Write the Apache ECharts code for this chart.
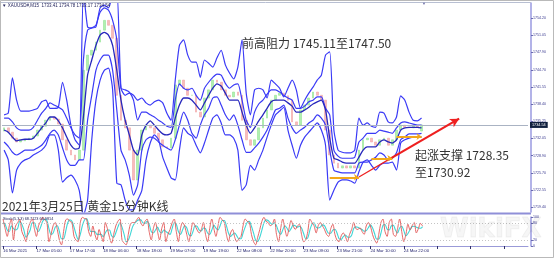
<!DOCTYPE html>
<html><head><meta charset="utf-8">
<script src="https://cdn.jsdelivr.net/npm/echarts@6/dist/echarts.min.js"></script>
<style>html,body{margin:0;padding:0;background:#fff;overflow:hidden}#c{width:554px;height:258px}</style>
</head><body><div id="c"></div>
<script>
// ---- data (XAUUSD M15, one slot = 1.5 h) ----
const timeLabels=['16 Mar 2021','17 Mar 05:00','17 Mar 17:00','18 Mar 06:00','18 Mar 18:00','19 Mar 07:00','19 Mar 19:00','22 Mar 08:00','22 Mar 20:00','23 Mar 09:00','23 Mar 21:00','24 Mar 10:00','24 Mar 22:00'];
const priceTicks=[1754.20,1751.05,1747.90,1744.70,1741.55,1738.40,1735.25,1732.05,1728.90,1725.70,1722.55,1719.40];
const stochTicks=[100,80,20,0];
const lastPrice=1734.54;
const closes=[1734.0,1733.2,1732.1,1731.4,1731.8,1731.8,1732.1,1732.5,1733.6,1734.3,
1735.4,1736.0,1735.6,1734.7,1731.8,1729.9,1729.0,1728.1,1729.9,1744.6,
1747.4,1748.3,1749.8,1752.0,1753.8,1752.9,1750.5,1740.0,1735.4,1734.0,
1729.9,1724.4,1729.9,1733.6,1734.5,1734.0,1733.0,1731.8,1730.5,1730.3,
1732.1,1741.9,1742.8,1741.3,1740.0,1740.0,1736.9,1736.0,1739.5,1741.0,
1742.8,1742.4,1741.0,1740.0,1739.7,1740.6,1740.0,1735.4,1731.8,1730.8,
1731.8,1734.0,1735.8,1737.3,1739.1,1740.0,1740.4,1739.9,1739.1,1735.1,
1734.5,1737.3,1738.2,1739.5,1740.6,1740.0,1739.1,1733.6,1729.0,1727.5,
1726.6,1727.0,1726.6,1727.0,1726.6,1729.9,1731.8,1732.1,1731.4,1730.8,
1731.8,1732.1,1730.8,1731.8,1733.6,1734.5,1734.1,1734.0,1734.3,1734.1,
1734.54];
const opens=[1733.4,1734.0,1733.2,1732.1,1731.4,1731.6,1731.8,1732.1,1732.5,1733.6,
1734.3,1735.4,1736.0,1735.6,1734.7,1731.8,1729.9,1729.0,1728.1,1729.9,
1744.6,1747.4,1748.3,1749.8,1752.0,1753.8,1752.9,1750.5,1740.0,1735.4,
1734.0,1729.9,1724.4,1729.9,1733.6,1734.5,1734.0,1733.0,1731.8,1730.5,
1730.3,1732.1,1741.9,1742.8,1741.3,1740.0,1740.0,1736.9,1736.0,1739.5,
1741.0,1742.8,1742.4,1741.0,1740.0,1739.7,1740.6,1740.0,1735.4,1731.8,
1730.8,1731.8,1734.0,1735.8,1737.3,1739.1,1740.0,1740.4,1739.9,1739.1,
1735.1,1734.5,1737.3,1738.2,1739.5,1740.6,1740.0,1739.1,1733.6,1729.0,
1727.5,1726.6,1727.0,1726.6,1727.0,1726.6,1729.9,1731.8,1732.1,1731.4,
1730.8,1731.8,1732.1,1730.8,1731.8,1733.6,1734.5,1734.1,1734.0,1734.3,
1733.41];
const maLine=[1733.6,1733.2,1732.3,1731.6,1731.8,1731.9,1731.9,1732.1,1733.0,1734.0,
1734.9,1736.0,1736.0,1735.3,1734.0,1732.3,1730.8,1730.1,1730.3,1736.0,
1743.7,1746.5,1749.2,1751.1,1751.6,1751.1,1749.2,1744.6,1739.1,1735.4,
1732.7,1729.9,1729.0,1732.7,1734.5,1735.3,1734.5,1733.6,1732.9,1732.7,
1733.0,1735.8,1738.2,1739.5,1739.5,1739.1,1738.2,1737.3,1738.6,1740.0,
1741.3,1742.1,1741.7,1740.4,1739.1,1739.1,1739.1,1736.9,1734.5,1733.0,
1734.0,1735.3,1736.4,1737.6,1738.8,1739.1,1739.1,1739.1,1738.6,1738.0,
1736.9,1736.9,1737.3,1737.8,1738.4,1738.8,1739.1,1737.3,1732.1,1728.4,
1728.1,1727.7,1727.5,1727.5,1727.5,1728.6,1729.9,1730.5,1730.5,1730.5,
1731.4,1731.8,1731.4,1731.2,1731.8,1733.6,1734.0,1734.1,1734.1,1734.1,
1734.0];
const bandUpper1=[1735.8,1735.8,1735.1,1734.0,1733.6,1733.6,1733.6,1734.1,1735.4,1736.7,
1737.6,1738.6,1738.2,1737.8,1737.3,1735.8,1734.0,1732.7,1732.1,1746.5,
1752.0,1752.4,1752.9,1755.3,1756.1,1755.7,1753.8,1750.2,1741.3,1741.0,
1740.6,1739.1,1735.4,1736.9,1736.9,1736.4,1736.0,1735.4,1734.9,1734.3,
1734.1,1739.1,1742.1,1741.3,1741.0,1741.3,1740.0,1739.1,1741.3,1742.4,
1743.3,1743.9,1743.7,1742.2,1741.3,1741.9,1742.1,1739.1,1735.4,1734.1,
1736.9,1738.4,1739.1,1740.2,1741.0,1741.0,1740.6,1740.0,1739.5,1739.1,
1737.6,1737.6,1738.0,1738.8,1739.1,1739.7,1739.7,1737.6,1736.4,1729.9,
1728.8,1728.4,1728.4,1728.4,1728.6,1731.4,1732.1,1733.0,1733.0,1733.0,
1733.6,1733.4,1733.2,1733.0,1734.0,1734.9,1735.1,1734.9,1734.7,1734.5,
1734.5];
const bandLower1=[1731.4,1730.6,1729.5,1729.0,1729.4,1729.9,1729.9,1729.9,1730.3,1730.8,
1731.8,1733.0,1733.6,1732.7,1730.3,1728.1,1727.1,1727.1,1728.1,1728.1,
1735.4,1740.0,1744.6,1746.5,1747.4,1747.4,1744.6,1737.3,1729.9,1728.1,
1725.3,1721.6,1723.5,1729.9,1731.8,1732.3,1732.1,1731.4,1730.8,1730.3,
1729.9,1731.8,1734.5,1736.9,1735.4,1733.0,1732.1,1734.5,1736.4,1737.6,
1739.5,1739.7,1738.2,1736.4,1735.4,1736.4,1734.5,1731.8,1729.5,1729.5,
1730.3,1731.2,1732.3,1733.6,1735.4,1737.3,1737.6,1738.2,1735.8,1734.0,
1733.0,1733.6,1734.1,1734.9,1735.4,1736.4,1735.8,1734.5,1729.9,1726.2,
1725.9,1725.7,1725.7,1725.7,1725.7,1727.5,1727.7,1727.7,1728.1,1728.6,
1729.4,1729.0,1728.1,1728.4,1729.4,1731.8,1732.3,1732.9,1732.9,1732.9,
1733.0];
const bandUpper2=[1736.4,1736.7,1743.2,1739.1,1737.1,1737.1,1737.1,1737.3,1737.6,1738.8,
1739.1,1737.6,1737.6,1737.8,1742.4,1739.1,1734.5,1731.8,1730.8,1759.4,
1752.6,1752.4,1752.6,1756.1,1756.6,1756.1,1758.5,1759.4,1741.3,1740.0,
1740.4,1740.0,1739.1,1739.5,1738.6,1738.2,1738.8,1739.1,1738.6,1736.7,
1735.4,1742.8,1749.2,1750.2,1747.4,1746.1,1746.1,1743.3,1746.5,1745.9,
1745.2,1746.9,1748.3,1745.6,1744.1,1743.0,1745.2,1750.2,1740.4,1736.4,
1741.0,1741.3,1741.0,1739.5,1742.8,1742.1,1741.3,1739.7,1741.3,1742.8,
1741.0,1737.6,1739.1,1740.4,1741.5,1742.8,1743.7,1747.4,1748.0,1733.6,
1729.9,1729.5,1729.4,1729.4,1729.9,1735.8,1734.5,1734.9,1734.3,1734.1,
1736.9,1736.7,1735.1,1734.9,1736.0,1739.9,1739.1,1736.9,1735.4,1735.3,
1735.8];
const bandLower2=[1729.9,1728.1,1722.0,1726.2,1727.5,1728.1,1728.4,1729.0,1729.4,1729.9,
1730.8,1732.7,1732.7,1729.9,1724.0,1724.8,1725.3,1724.4,1722.5,1717.9,
1720.7,1731.8,1739.1,1742.8,1744.6,1745.0,1741.0,1723.8,1723.5,1720.7,
1718.9,1718.9,1720.7,1722.5,1728.1,1731.2,1732.7,1731.8,1728.6,1726.6,
1724.8,1724.4,1729.9,1734.0,1733.0,1732.5,1730.8,1729.4,1731.2,1733.6,
1735.8,1736.4,1734.9,1732.7,1732.7,1732.1,1729.9,1722.5,1723.5,1727.1,
1726.2,1728.1,1729.9,1732.3,1734.5,1736.4,1737.1,1737.8,1733.6,1730.8,
1728.4,1730.8,1732.3,1733.2,1734.1,1734.9,1733.6,1730.8,1720.7,1722.5,
1724.0,1724.4,1724.4,1724.2,1723.8,1725.9,1727.7,1728.1,1727.1,1726.2,
1727.1,1727.5,1727.5,1727.7,1726.2,1731.2,1731.8,1732.1,1732.3,1732.3,
1732.3];
// Stochastic (5,3,3), one slot = 45 min
const stochK=[93,60,33,70,93,21,69,80,93,50,
33,15,60,81,93,60,33,70,85,99,
90,81,15,40,70,81,57,20,4,50,
90,93,85,81,33,20,15,80,99,95,
93,50,33,69,40,21,57,35,15,81,
60,30,10,40,69,85,93,21,10,4,
40,75,81,81,90,99,80,69,85,93,
50,21,60,81,50,21,60,81,15,40,
57,80,93,50,15,60,81,69,40,15,
50,81,70,55,45,
57,81,40,15,60,93,60,33,70,99,
90,81,40,15,45,57,30,15,25,33,
70,93,85,81,40,15,4,30,57,85,
99,85,81,70,75,93,40,15,60,93,
60,33,60,88,70,57,69,75,40,15,
20,50,93,81,70,45,70,81,70,57,
40,33,60,75,40,20,15,35,45,33,
15,40,57,81,60,57,63,50,40,69,
81,69,40,21,10,40,80,93,50,33,
81,93,40,33,60,93,50,15,40,75,
55,70,81,45,60,78,68.7];
const stochD=[80,75,55,50,70,60,55,60,85,75,
55,30,40,55,80,80,60,50,65,85,
92,88,60,40,45,65,70,50,25,25,
50,80,90,85,65,40,22,40,70,90,
95,75,50,50,50,40,40,40,32,45,
55,55,35,30,45,65,80,65,40,15,
20,40,65,78,85,90,90,80,78,85,
75,50,45,55,65,50,45,55,50,45,
40,60,80,75,50,40,55,70,63,40,
35,50,70,68,55,
52,62,60,45,40,55,72,62,55,70,
88,88,70,45,33,40,45,35,25,25,
45,65,82,85,68,45,20,16,30,55,
80,90,88,80,75,80,70,50,40,55,
70,62,50,60,72,70,65,68,62,43,
25,28,55,75,80,65,62,65,73,70,
55,44,44,55,58,45,25,23,32,38,
31,30,37,60,66,65,60,57,51,53,
63,73,63,43,24,24,43,71,74,58,
55,69,71,55,45,62,68,53,35,43,
56,67,68,65,62,61,67.0];
// annotations (slot index, price)
const trendThin=[[85,1724.95],[92,1728.1]];
const trendThick=[[92,1728.1],[109,1735.7]];
const supportArrows=[[[78,1724.9],[85,1724.9]],[[88,1728.4],[93,1728.4]],[[94,1732.4],[100,1732.4]]];

// ---- chart ----
const nMain=126, nStoch=252;
const mainCats=Array.from({length:nMain},(_,i)=>'b'+i);
const stochCats=Array.from({length:nStoch},(_,i)=>'s'+i);
const candleData=closes.map((c,i)=>[opens[i],c,Math.min(opens[i],c),Math.max(opens[i],c)]);
const BLUE='#3a3af6', MID='#2727bc';
function bandLine(name,data,color,w){return {name,type:'line',xAxisIndex:0,yAxisIndex:0,data,showSymbol:false,smooth:0.2,lineStyle:{color,width:w},z:3,silent:true,clip:true};}
const chart=echarts.init(document.getElementById('c'));
chart.setOption({
  animation:false,
  backgroundColor:'#ffffff',
  grid:[{left:2,top:3,width:526,height:209},{left:2,top:217,width:526,height:29}],
  xAxis:[
    {gridIndex:0,type:'category',data:mainCats,boundaryGap:true,show:false},
    {gridIndex:1,type:'category',data:stochCats,boundaryGap:true,
     axisLine:{show:true,lineStyle:{color:'#9a9ad8',width:1}},
     axisTick:{show:true,interval:(i)=>i%16===0,alignWithLabel:true,length:3,lineStyle:{color:'#30306a'}},
     axisLabel:{show:true,interval:(i)=>i%16===0,formatter:(v,i)=>timeLabels[i/16]||'',align:'left',fontSize:4.3,color:'#24246e',margin:3,fontFamily:'Liberation Sans'}}
  ],
  yAxis:[
    {gridIndex:0,type:'value',position:'right',offset:3,min:1718.5,max:1757.0,scale:true,
     splitLine:{show:false},
     axisLine:{show:true,lineStyle:{color:'#9a9ae0',width:1.5}},
     axisTick:{show:true,customValues:priceTicks,length:2,lineStyle:{color:'#6a6ab0'}},
     axisLabel:{customValues:priceTicks,formatter:(v)=>v.toFixed(2),fontSize:3.6,color:'#3a3a90',margin:2,fontFamily:'Liberation Sans'}},
    {gridIndex:1,type:'value',position:'right',offset:3,min:0,max:100,
     splitLine:{show:false},
     axisLine:{show:true,lineStyle:{color:'#9a9ae0',width:1.5}},
     axisTick:{show:true,customValues:stochTicks,length:2,lineStyle:{color:'#6a6ab0'}},
     axisLabel:{customValues:stochTicks,fontSize:3.6,color:'#3a3a90',margin:2,fontFamily:'Liberation Sans'}}
  ],
  series:[
    {name:'price',type:'candlestick',xAxisIndex:0,yAxisIndex:0,data:candleData,barWidth:2.2,z:2,silent:true,
     itemStyle:{color:'#b2efb2',color0:'#f7bcbc',borderColor:'#92e492',borderColor0:'#f2a4a4',borderWidth:0.6}},
    bandLine('upper2',bandUpper2,BLUE,1.2),
    bandLine('lower2',bandLower2,BLUE,1.2),
    bandLine('upper1',bandUpper1,BLUE,1.2),
    bandLine('lower1',bandLower1,BLUE,1.2),
    bandLine('ma',maLine,MID,1.3),
    {name:'lastPrice',type:'line',xAxisIndex:0,yAxisIndex:0,data:[],silent:true,z:1,
     markLine:{silent:true,symbol:'none',animation:false,
       lineStyle:{color:'#aab3c3',width:1,type:'solid'},
       label:{show:true,position:'end',distance:2,formatter:()=>lastPrice.toFixed(2),backgroundColor:'#10203e',color:'#ffffff',fontSize:3.8,padding:[1,2,1,2],fontFamily:'Liberation Sans'},
       data:[{yAxis:lastPrice}]}},
    {name:'trendThin',type:'line',xAxisIndex:0,yAxisIndex:0,data:[],silent:true,z:5,
     markLine:{silent:true,symbol:['none','none'],animation:false,label:{show:false},
       lineStyle:{color:'#ee2020',width:1.2,type:'solid'},
       data:[[{coord:trendThin[0]},{coord:trendThin[1]}]]}},
    {name:'trendThick',type:'line',xAxisIndex:0,yAxisIndex:0,data:[],silent:true,z:5,
     markLine:{silent:true,symbol:['none','arrow'],symbolSize:[7,9],animation:false,label:{show:false},
       lineStyle:{color:'#ee2020',width:2.2,type:'solid'},
       data:[[{coord:trendThick[0]},{coord:trendThick[1]}]]}},
    {name:'support',type:'line',xAxisIndex:0,yAxisIndex:0,data:[],silent:true,z:5,
     markLine:{silent:true,symbol:['none','arrow'],symbolSize:5,animation:false,label:{show:false},
       lineStyle:{color:'#f2a81a',width:2,type:'solid'},
       data:supportArrows.map(a=>[{coord:a[0]},{coord:a[1]}])}},
    {name:'%D',type:'line',xAxisIndex:1,yAxisIndex:1,data:stochD,showSymbol:false,smooth:0.3,silent:true,
     lineStyle:{color:'#3fd6d6',width:1.1},z:2},
    {name:'%K',type:'line',xAxisIndex:1,yAxisIndex:1,data:stochK,showSymbol:false,smooth:0.3,silent:true,
     lineStyle:{color:'#e25555',width:0.9},z:3,
     markLine:{silent:true,symbol:'none',animation:false,label:{show:false},
       lineStyle:{color:'#c4c4c4',width:1,type:[1,2]},data:[{yAxis:80},{yAxis:20}]}}
  ],
  graphic:[
    {type:'rect',shape:{x:0.5,y:0.5,width:553,height:257},style:{fill:'none',stroke:'#b9b9b9',lineWidth:1},silent:true,z:100},
    {type:'line',shape:{x1:0,y1:2.5,x2:531,y2:2.5},style:{stroke:'#b8bfd2',lineWidth:1},silent:true,z:50},
    {type:'line',shape:{x1:0,y1:213.5,x2:531,y2:213.5},style:{stroke:'#8f8fd8',lineWidth:2},silent:true,z:50},
    {type:'text',x:424,y:4,style:{text:'▼',fontSize:4,fill:'#7070a8',align:'center',verticalAlign:'middle'},silent:true,z:60},
    {type:'text',x:2,y:6,style:{text:'▼ XAUUSD#,M15  1733.41 1734.78 1733.17 1734.54',font:'4.5px "Liberation Sans"',fill:'#22225a',verticalAlign:'middle'},silent:true,z:60},
    {type:'text',x:3,y:219,style:{text:'Stoch(5,3,3) 68.7123 66.9814',font:'3.8px "Liberation Sans"',fill:'#22225a',verticalAlign:'middle'},silent:true,z:60},
    {type:'text',x:242,y:43,style:{text:'前高阻力 1745.11至1747.50',font:'12px "Noto Sans CJK SC"',fill:'#333333',verticalAlign:'middle'},silent:true,z:60},
    {type:'text',x:415,y:155,style:{text:'起涨支撑 1728.35',font:'12px "Noto Sans CJK SC"',fill:'#333333',verticalAlign:'middle'},silent:true,z:60},
    {type:'text',x:415,y:172,style:{text:'至1730.92',font:'12px "Noto Sans CJK SC"',fill:'#333333',verticalAlign:'middle'},silent:true,z:60},
    {type:'text',x:2,y:206,style:{text:'2021年3月25日 黄金15分钟K线',font:'12px "Noto Sans CJK SC"',fill:'#333333',verticalAlign:'middle'},silent:true,z:60},
    {type:'text',x:440,y:230,style:{text:'WikiFX',font:'bold 26px "DejaVu Sans"',fill:'rgba(0,0,0,0.035)',stroke:'rgba(0,0,0,0.05)',lineWidth:1,verticalAlign:'middle'},silent:true,z:70}
  ]
});
</script></body></html>
